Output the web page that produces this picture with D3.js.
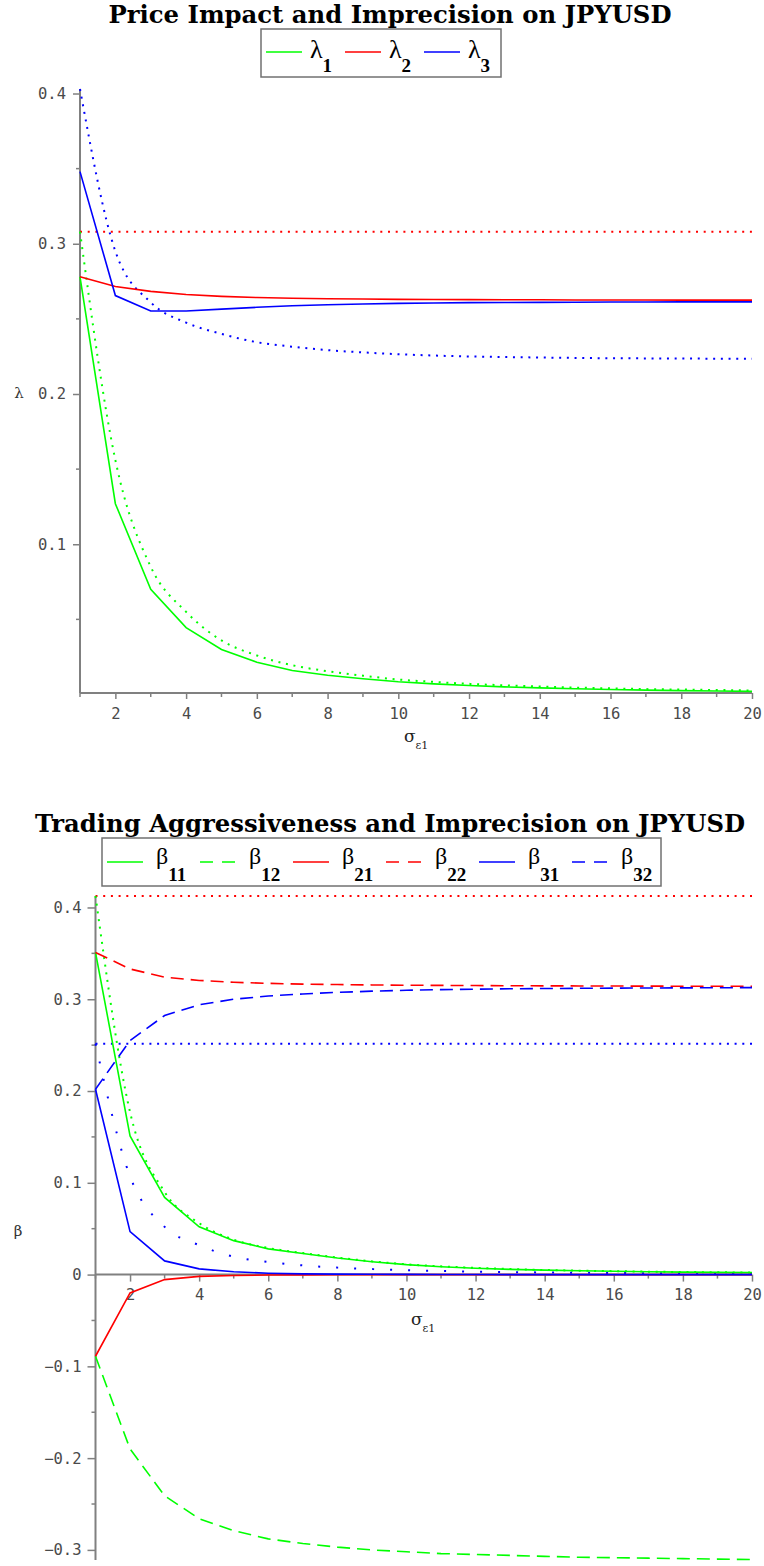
<!DOCTYPE html>
<html>
<head>
<meta charset="utf-8">
<script src="https://cdn.jsdelivr.net/npm/d3@7"></script>
<style>
  body { margin: 0; background: #fff; }
  svg { display: block; }
</style>
</head>
<body>
<svg id="chart" width="764" height="1566"></svg>
<script>
// x axis: sigma_e1
const sigma = [1, 2, 3, 4, 5, 6, 7, 8, 9, 10, 11, 12, 13, 14, 15, 16, 17, 18, 19, 20];

// top panel - price impact (solid) and dotted reference curves
const lambda1    = [0.278, 0.127, 0.070, 0.0445, 0.030, 0.0215, 0.016, 0.0128, 0.0105, 0.0085, 0.0071, 0.0060, 0.0051, 0.0044, 0.0038, 0.0033, 0.0029, 0.0026, 0.0023, 0.0021];
const lambda1Dot = [0.308, 0.156, 0.085, 0.055, 0.036, 0.026, 0.0195, 0.0155, 0.0125, 0.0100, 0.0084, 0.0071, 0.0061, 0.0053, 0.0046, 0.0041, 0.0036, 0.0033, 0.0030, 0.0027];
const lambda2    = [0.278, 0.2715, 0.2683, 0.2662, 0.2650, 0.2642, 0.2637, 0.2634, 0.2632, 0.2630, 0.2629, 0.2628, 0.2627, 0.2627, 0.2626, 0.2626, 0.2626, 0.2625, 0.2625, 0.2625];
const lambda2Dot = [0.308, 0.308, 0.308, 0.308, 0.308, 0.308, 0.308, 0.308, 0.308, 0.308, 0.308, 0.308, 0.308, 0.308, 0.308, 0.308, 0.308, 0.308, 0.308, 0.308];
const lambda3    = [0.348, 0.2655, 0.2552, 0.2552, 0.2565, 0.2577, 0.2587, 0.2594, 0.2599, 0.2603, 0.2606, 0.2608, 0.2609, 0.2610, 0.2611, 0.2612, 0.2612, 0.2613, 0.2613, 0.2613];
const lambda3Dot = [0.403, 0.295, 0.261, 0.2475, 0.240, 0.2345, 0.2315, 0.2292, 0.2277, 0.2265, 0.2256, 0.2250, 0.2246, 0.2243, 0.2240, 0.2238, 0.2237, 0.2236, 0.2235, 0.2234];

// bottom panel - trading aggressiveness
const beta11    = [0.351, 0.151, 0.084, 0.052, 0.037, 0.028, 0.023, 0.018, 0.014, 0.0108, 0.0086, 0.0069, 0.0057, 0.0048, 0.0041, 0.0036, 0.0031, 0.0027, 0.0024, 0.0021];
const beta12    = [-0.089, -0.190, -0.241, -0.266, -0.279, -0.288, -0.293, -0.297, -0.300, -0.302, -0.304, -0.305, -0.306, -0.307, -0.308, -0.3085, -0.309, -0.3095, -0.310, -0.3105];
const beta21    = [-0.089, -0.020, -0.0055, -0.002, -0.001, -0.0005, -0.0003, -0.0002, -0.0001, -0.0001, 0, 0, 0, 0, 0, 0, 0, 0, 0, 0];
const beta22    = [0.351, 0.333, 0.324, 0.3205, 0.3185, 0.3173, 0.3165, 0.3160, 0.3156, 0.3153, 0.3151, 0.3149, 0.3147, 0.3146, 0.3145, 0.3144, 0.3143, 0.3142, 0.3142, 0.3141];
const beta31    = [0.202, 0.0468, 0.0149, 0.0062, 0.003, 0.0015, 0.0008, 0.0005, 0.0003, 0.0002, 0.0001, 0.0001, 0, 0, 0, 0, 0, 0, 0, 0];
const beta32    = [0.202, 0.255, 0.2823, 0.294, 0.300, 0.3035, 0.3058, 0.3075, 0.3088, 0.3098, 0.3105, 0.3110, 0.3114, 0.3117, 0.3119, 0.3121, 0.3123, 0.3124, 0.3125, 0.3127];
const beta1Dot  = [0.4125, 0.177, 0.090, 0.056, 0.038, 0.029, 0.0235, 0.0185, 0.0145, 0.0112, 0.0090, 0.0073, 0.0060, 0.0050, 0.0043, 0.0037, 0.0032, 0.0028, 0.0025, 0.0022];
const beta2Dot  = [0.4125, 0.4125, 0.4125, 0.4125, 0.4125, 0.4125, 0.4125, 0.4125, 0.4125, 0.4125, 0.4125, 0.4125, 0.4125, 0.4125, 0.4125, 0.4125, 0.4125, 0.4125, 0.4125, 0.4125];
const beta3Dot  = [0.2515, 0.107, 0.052, 0.032, 0.0195, 0.0138, 0.0100, 0.0076, 0.0060, 0.0048, 0.0039, 0.0032, 0.0027, 0.0023, 0.0020, 0.0017, 0.0015, 0.0013, 0.0012, 0.0011];
const beta3Flat = [0.2515, 0.2515, 0.2515, 0.2515, 0.2515, 0.2515, 0.2515, 0.2515, 0.2515, 0.2515, 0.2515, 0.2515, 0.2515, 0.2515, 0.2515, 0.2515, 0.2515, 0.2515, 0.2515, 0.2515];

// ticks
const xTicks      = [2, 4, 6, 8, 10, 12, 14, 16, 18, 20];
const xMinorTicks = [1, 3, 5, 7, 9, 11, 13, 15, 17, 19];
const yTicksTop   = [0.1, 0.2, 0.3, 0.4];
const yMinorTop   = [0.05, 0.15, 0.25, 0.35];
const yTicksBot   = [-0.3, -0.2, -0.1, 0, 0.1, 0.2, 0.3, 0.4];
const yMinorBot   = [-0.25, -0.15, -0.05, 0.05, 0.15, 0.25, 0.35];

const GREEN = "#00ff00", RED = "#ff0000", BLUE = "#0000ff";
const AXIS = "#808080";
const DASHES = { dot: "2,5.7", sparse: "2,16", dash: "13,7" };

const svg = d3.select("#chart");

function fmt(d) {
  if (d === 0) return "0";
  return (d < 0 ? "\u2212" : "") + Math.abs(d).toFixed(1);
}

function drawPanel(p) {
  const x = d3.scaleLinear().domain([1, 20]).range(p.xRange);
  const y = d3.scaleLinear().domain(p.yDomain).range(p.yRange);
  const g = svg.append("g");

  // title
  g.append("text")
    .attr("x", p.titleX).attr("y", p.titleY)
    .attr("text-anchor", "middle")
    .style("font-family", "'DejaVu Serif', serif")
    .style("font-weight", "bold")
    .style("font-size", p.titleSize + "px")
    .text(p.title);

  // legend
  const lg = p.legend;
  g.append("rect")
    .attr("x", lg.x).attr("y", lg.y).attr("width", lg.w).attr("height", lg.h)
    .attr("fill", "#fff").attr("stroke", "#707070").attr("stroke-width", 1.5);
  lg.items.forEach((it, i) => {
    const x0 = lg.x0 + i * lg.pitch;
    g.append("line")
      .attr("x1", x0).attr("x2", x0 + 36)
      .attr("y1", lg.lineY).attr("y2", lg.lineY)
      .attr("stroke", it.color).attr("stroke-width", 1.6)
      .attr("stroke-dasharray", it.dash ? "13,9" : null);
    const t = g.append("text")
      .attr("x", x0 + lg.textDx).attr("y", lg.textY)
      .style("font-family", "'Liberation Serif', serif")
      .style("font-size", lg.symSize + "px")
      .text(lg.sym);
    t.append("tspan")
      .attr("dy", lg.subDy)
      .style("font-weight", "bold")
      .style("font-size", "19px")
      .text(it.sub);
  });

  // axes
  const yAxis = g.append("g").attr("transform", `translate(${x(1)},0)`)
    .call(d3.axisLeft(y).tickValues(p.yTicks).tickSize(p.yTick).tickPadding(p.yPad).tickFormat(fmt));
  yAxis.append("g").selectAll("line").data(p.yMinor).join("line")
    .attr("x1", -4).attr("x2", 0).attr("y1", d => y(d)).attr("y2", d => y(d))
    .attr("stroke", AXIS).attr("stroke-width", 1.5);

  const xAxis = g.append("g").attr("transform", `translate(0,${y(p.xAxisAt)})`)
    .call(d3.axisBottom(x).tickValues(xTicks).tickSize(p.xTick).tickPadding(p.xPad).tickFormat(d3.format("d")));
  xAxis.append("g").selectAll("line").data(xMinorTicks).join("line")
    .attr("x1", d => x(d)).attr("x2", d => x(d)).attr("y1", 0).attr("y2", 4)
    .attr("stroke", AXIS).attr("stroke-width", 1.5);

  [yAxis, xAxis].forEach(a => {
    a.select(".domain").attr("stroke", AXIS).attr("stroke-width", 2);
    a.selectAll(".tick line").attr("stroke", AXIS).attr("stroke-width", 1.5);
    a.selectAll(".tick text")
      .style("font-family", "'DejaVu Sans Mono', monospace")
      .style("font-size", "15.5px")
      .attr("fill", "#4a4a4a");
  });
  // domain lines only over the plotted range (no outer ticks)
  yAxis.select(".domain").attr("d", `M0,${p.yRange[0]}V${p.yRange[1]}`);
  xAxis.select(".domain").attr("d", `M${p.xRange[0]},0H${p.xRange[1]}`);

  // axis titles
  g.append("text")
    .attr("x", p.yLabel.x).attr("y", p.yLabel.y)
    .attr("text-anchor", "middle")
    .style("font-family", "'DejaVu Serif', serif")
    .style("font-size", "15px")
    .attr("fill", "#333")
    .text(p.yLabel.text);
  const xl = g.append("text")
    .attr("x", p.xLabel.x).attr("y", p.xLabel.y)
    .style("font-family", "'DejaVu Serif', serif")
    .style("font-size", "17px")
    .attr("fill", "#222")
    .text("\u03c3");
  xl.append("tspan").attr("dy", 7).style("font-size", "11px").text("\u03b51");

  // curves
  const line = d3.line().x((d, i) => x(sigma[i])).y(d => y(d));
  p.series.forEach(s => {
    const dotted = s.style === "dot" || s.style === "sparse";
    g.append("path")
      .datum(s.values)
      .attr("fill", "none")
      .attr("stroke", s.color)
      .attr("stroke-width", dotted ? 2 : 1.6)
      .attr("stroke-dasharray", DASHES[s.style] || null)
      .attr("d", line.curve(dotted ? d3.curveMonotoneX : d3.curveLinear));
  });
}

drawPanel({
  title: "Price Impact and Imprecision on JPYUSD",
  titleX: 390, titleY: 23, titleSize: 24.3,
  legend: {
    x: 261, y: 29, w: 240, h: 48, x0: 266, pitch: 79, lineY: 52,
    textDx: 44, textY: 58, symSize: 26, subDy: 14, sym: "\u03bb",
    items: [{ color: GREEN, sub: "1" }, { color: RED, sub: "2" }, { color: BLUE, sub: "3" }]
  },
  xRange: [80, 752], yDomain: [0.001, 0.403], yRange: [693, 89], xAxisAt: 0.001,
  yTicks: yTicksTop, yMinor: yMinorTop, yTick: 7, yPad: 7, xTick: 6, xPad: 9,
  yLabel: { text: "\u03bb", x: 19, y: 398 },
  xLabel: { x: 404, y: 742 },
  series: [
    { values: lambda2Dot, color: RED, style: "dot" },
    { values: lambda1Dot, color: GREEN, style: "dot" },
    { values: lambda3Dot, color: BLUE, style: "dot" },
    { values: lambda1, color: GREEN, style: "solid" },
    { values: lambda2, color: RED, style: "solid" },
    { values: lambda3, color: BLUE, style: "solid" }
  ]
});

drawPanel({
  title: "Trading Aggressiveness and Imprecision on JPYUSD",
  titleX: 390, titleY: 832, titleSize: 24.3,
  legend: {
    x: 102, y: 838, w: 559, h: 48, x0: 107, pitch: 93, lineY: 862,
    textDx: 49, textY: 864, symSize: 24, subDy: 17, sym: "\u03b2",
    items: [
      { color: GREEN, sub: "11" }, { color: GREEN, sub: "12", dash: true },
      { color: RED, sub: "21" }, { color: RED, sub: "22", dash: true },
      { color: BLUE, sub: "31" }, { color: BLUE, sub: "32", dash: true }
    ]
  },
  xRange: [95.5, 752], yDomain: [-0.311, 0.4125], yRange: [1560, 896], xAxisAt: 0,
  yTicks: yTicksBot, yMinor: yMinorBot, yTick: 8, yPad: 6, xTick: 7, xPad: 7,
  yLabel: { text: "\u03b2", x: 18, y: 1236 },
  xLabel: { x: 411, y: 1325 },
  series: [
    { values: beta2Dot, color: RED, style: "dot" },
    { values: beta3Flat, color: BLUE, style: "dot" },
    { values: beta1Dot, color: GREEN, style: "dot" },
    { values: beta3Dot, color: BLUE, style: "sparse" },
    { values: beta11, color: GREEN, style: "solid" },
    { values: beta12, color: GREEN, style: "dash" },
    { values: beta21, color: RED, style: "solid" },
    { values: beta22, color: RED, style: "dash" },
    { values: beta31, color: BLUE, style: "solid" },
    { values: beta32, color: BLUE, style: "dash" }
  ]
});
</script>
</body>
</html>
